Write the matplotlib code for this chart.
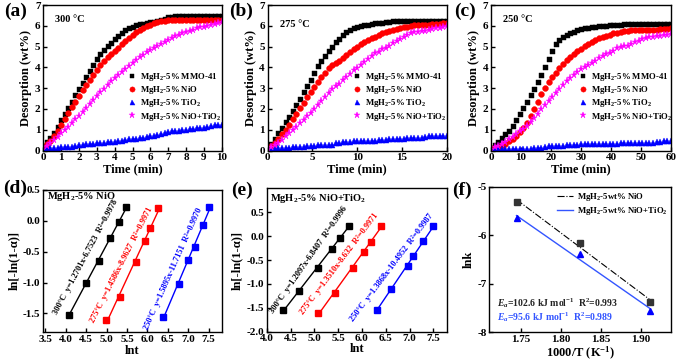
import numpy as np
import matplotlib
matplotlib.use('Agg')
import matplotlib.pyplot as plt
from matplotlib.ticker import FormatStrFormatter, MultipleLocator

plt.rcParams['font.family'] = ['Liberation Serif', 'DejaVu Serif']
plt.rcParams['font.weight'] = 'bold'
plt.rcParams['axes.labelweight'] = 'bold'
plt.rcParams['mathtext.fontset'] = 'custom'
plt.rcParams['mathtext.rm'] = 'Liberation Serif:bold'
plt.rcParams['mathtext.it'] = 'Liberation Serif:bold:italic'
plt.rcParams['mathtext.bf'] = 'Liberation Serif:bold'
plt.rcParams['axes.unicode_minus'] = False

# ---------------- data: isothermal desorption ----------------
series_labels = ['MgH$_2$-5% MMO-41', 'MgH$_2$-5% NiO', 'MgH$_2$-5% TiO$_2$', 'MgH$_2$-5% NiO+TiO$_2$']

t_a = np.linspace(0, 10, 51)
a_mmo = [0.22, 0.42, 0.62, 0.85, 1.15, 1.45, 1.75, 2.05, 2.35, 2.65, 2.95, 3.25, 3.55, 3.82, 4.1, 4.38, 4.62, 4.85, 5.02, 5.18,
         5.35, 5.52, 5.65, 5.78, 5.88, 5.96, 6.02, 6.07, 6.1, 6.14, 6.17, 6.2, 6.22, 6.27, 6.35, 6.42, 6.44, 6.45, 6.45, 6.45,
         6.45, 6.45, 6.45, 6.45, 6.45, 6.45, 6.45, 6.45, 6.45, 6.45, 6.45]
a_nio = [0.18, 0.32, 0.48, 0.7, 0.95, 1.22, 1.5, 1.8, 2.08, 2.35, 2.62, 2.9, 3.15, 3.4, 3.65, 3.88, 4.1, 4.3, 4.5, 4.65,
         4.8, 4.95, 5.1, 5.25, 5.4, 5.55, 5.68, 5.8, 5.9, 5.98, 6.05, 6.12, 6.17, 6.21, 6.25, 6.27, 6.28, 6.3, 6.3, 6.3,
         6.3, 6.3, 6.3, 6.3, 6.3, 6.3, 6.3, 6.3, 6.3, 6.3, 6.3]
a_tio = [0.08, 0.1, 0.12, 0.13, 0.14, 0.15, 0.15, 0.15, 0.18, 0.22, 0.26, 0.28, 0.3, 0.3, 0.32, 0.34, 0.36, 0.38, 0.4, 0.41,
         0.42, 0.45, 0.48, 0.52, 0.55, 0.56, 0.57, 0.58, 0.6, 0.65, 0.7, 0.72, 0.74, 0.8, 0.86, 0.88, 0.92, 0.95, 0.96, 0.98,
         1.0, 1.02, 1.04, 1.06, 1.08, 1.1, 1.14, 1.18, 1.22, 1.24, 1.25]
a_mix = [0.15, 0.22, 0.35, 0.5, 0.65, 0.82, 0.98, 1.15, 1.32, 1.5, 1.68, 1.85, 2.05, 2.25, 2.45, 2.62, 2.8, 2.98, 3.15, 3.32,
         3.48, 3.62, 3.78, 3.92, 4.08, 4.22, 4.35, 4.48, 4.6, 4.72, 4.83, 4.93, 5.03, 5.13, 5.22, 5.3, 5.4, 5.5, 5.57, 5.63,
         5.7, 5.76, 5.82, 5.87, 5.92, 5.96, 6.0, 6.05, 6.1, 6.14, 6.18]

t_b = np.linspace(0, 20, 51)
b_mmo = [0.15, 0.3, 0.55, 0.85, 1.1, 1.35, 1.6, 1.88, 2.2, 2.5, 2.8, 3.1, 3.4, 3.75, 4.05, 4.3, 4.55, 4.8, 5.0, 5.2,
         5.38, 5.55, 5.7, 5.8, 5.88, 5.94, 5.98, 6.02, 6.06, 6.1, 6.12, 6.14, 6.15, 6.16, 6.2, 6.22, 6.24, 6.25, 6.25, 6.25,
         6.25, 6.25, 6.25, 6.25, 6.25, 6.25, 6.25, 6.25, 6.25, 6.25, 6.25]
b_nio = [0.1, 0.22, 0.35, 0.55, 0.78, 1.0, 1.25, 1.5, 1.78, 2.05, 2.3, 2.55, 2.8, 3.05, 3.3, 3.55, 3.75, 3.95, 4.1, 4.2,
         4.3, 4.45, 4.6, 4.75, 4.88, 5.0, 5.1, 5.2, 5.3, 5.4, 5.48, 5.56, 5.64, 5.7, 5.76, 5.8, 5.84, 5.88, 5.92, 5.96,
         6.0, 6.02, 6.03, 6.04, 6.05, 6.06, 6.08, 6.1, 6.1, 6.12, 6.12]
b_tio = [0.05, 0.06, 0.08, 0.1, 0.1, 0.12, 0.14, 0.15, 0.15, 0.16, 0.18, 0.2, 0.22, 0.24, 0.25, 0.25, 0.26, 0.26, 0.27, 0.35,
         0.38, 0.4, 0.4, 0.42, 0.44, 0.45, 0.45, 0.46, 0.47, 0.48, 0.48, 0.5, 0.5, 0.52, 0.53, 0.55, 0.55, 0.56, 0.57, 0.58,
         0.6, 0.6, 0.62, 0.62, 0.65, 0.7, 0.7, 0.71, 0.7, 0.7, 0.7]
b_mix = [0.08, 0.15, 0.25, 0.38, 0.52, 0.68, 0.82, 0.98, 1.15, 1.3, 1.48, 1.65, 1.8, 1.98, 2.18, 2.38, 2.55, 2.75, 2.95, 3.1,
         3.22, 3.38, 3.55, 3.7, 3.85, 3.98, 4.12, 4.28, 4.42, 4.55, 4.67, 4.76, 4.86, 4.95, 5.05, 5.15, 5.27, 5.38, 5.48, 5.57,
         5.64, 5.68, 5.71, 5.74, 5.77, 5.8, 5.83, 5.87, 5.9, 5.95, 6.0]

t_c = np.linspace(0, 60, 51)
c_mmo = [0.1, 0.25, 0.42, 0.6, 0.78, 0.95, 1.18, 1.45, 1.75, 2.05, 2.35, 2.65, 2.95, 3.3, 3.65, 4.0, 4.4, 4.8, 5.1, 5.3,
         5.45, 5.55, 5.65, 5.72, 5.78, 5.83, 5.87, 5.9, 5.93, 5.96, 5.98, 6.0, 6.0, 6.02, 6.03, 6.04, 6.06, 6.1, 6.1, 6.1,
         6.1, 6.1, 6.1, 6.1, 6.1, 6.1, 6.1, 6.1, 6.1, 6.1, 6.1]
c_nio = [0.1, 0.12, 0.18, 0.25, 0.33, 0.45, 0.57, 0.7, 0.88, 1.08, 1.32, 1.65, 2.0, 2.35, 2.7, 3.0, 3.28, 3.52, 3.75, 3.95,
         4.15, 4.35, 4.5, 4.65, 4.78, 4.9, 5.02, 5.12, 5.2, 5.3, 5.4, 5.47, 5.53, 5.58, 5.63, 5.67, 5.7, 5.73, 5.76, 5.78,
         5.8, 5.8, 5.8, 5.8, 5.8, 5.81, 5.82, 5.83, 5.84, 5.86, 5.88]
c_tio = [0.05, 0.06, 0.06, 0.07, 0.07, 0.08, 0.08, 0.08, 0.08, 0.09, 0.09, 0.09, 0.12, 0.1, 0.11, 0.18, 0.2, 0.2, 0.2, 0.21,
         0.22, 0.25, 0.26, 0.27, 0.28, 0.29, 0.3, 0.3, 0.3, 0.3, 0.31, 0.31, 0.31, 0.32, 0.32, 0.33, 0.35, 0.36, 0.36, 0.36,
         0.37, 0.37, 0.37, 0.38, 0.38, 0.38, 0.4, 0.42, 0.44, 0.45, 0.45]
c_mix = [0.08, 0.15, 0.22, 0.32, 0.42, 0.53, 0.65, 0.78, 0.92, 1.05, 1.2, 1.38, 1.58, 1.78, 1.98, 2.18, 2.38, 2.58, 2.78, 2.98,
         3.15, 3.32, 3.48, 3.62, 3.78, 3.92, 4.02, 4.12, 4.22, 4.32, 4.45, 4.55, 4.62, 4.7, 4.8, 4.92, 5.0, 5.02, 5.05, 5.12,
         5.2, 5.28, 5.35, 5.4, 5.45, 5.48, 5.5, 5.52, 5.55, 5.58, 5.6]

temps_top = ['300 °C', '275 °C', '250 °C']

# ---------------- data: JMAK fits ----------------
d_lnt = {'300': [4.07, 4.50, 4.82, 5.09, 5.30, 5.47],
         '275': [4.99, 5.32, 5.71, 5.94, 6.07, 6.27],
         '250': [6.38, 6.77, 6.99, 7.16, 7.36, 7.52]}
d_y = {'300': [-1.52, -1.00, -0.65, -0.28, -0.02, 0.22],
       '275': [-1.61, -1.23, -0.66, -0.33, -0.12, 0.21],
       '250': [-1.56, -1.03, -0.64, -0.42, -0.07, 0.22]}
d_eq = {'300': '300°C  y=1.2701x-6.7523  R²=0.9978',
        '275': '275°C  y=1.4586x-8.9627  R²=0.9971',
        '250': '250°C  y=1.5895x-11.7151  R²=0.9970'}

e_lnt = {'300': [4.35, 4.68, 5.07, 5.37, 5.54, 5.72],
         '275': [5.08, 5.43, 5.82, 6.04, 6.18, 6.39],
         '250': [6.31, 6.62, 6.96, 7.08, 7.28, 7.50]}
e_y = {'300': [-1.54, -1.15, -0.67, -0.28, -0.03, 0.22],
       '275': [-1.60, -1.19, -0.66, -0.34, -0.13, 0.22],
       '250': [-1.54, -1.10, -0.63, -0.42, -0.11, 0.21]}
e_eq = {'300': '300°C  y=1.2097x-6.8407  R²=0.9996',
        '275': '275°C  y=1.3510x-8.632  R²=0.9971',
        '250': '250°C  y=1.3868x-10.4952  R²=0.9987'}

# ---------------- data: Arrhenius ----------------
inv_T = [1.745, 1.824, 1.912]
lnk_nio = [-5.31, -6.15, -7.38]
lnk_mix = [-5.65, -6.39, -7.57]

# ---------------- figure ----------------
W, H = 678, 361
fig = plt.figure(figsize=(W / 100, H / 100), dpi=100)

def add_ax(left, top, right, bottom):
    return fig.add_axes([left / W, 1 - bottom / H, (right - left) / W, (bottom - top) / H])

def style(ax):
    for s in ax.spines.values():
        s.set_linewidth(1.0)
    ax.tick_params(direction='in', length=3, width=1.0, labelsize=8, pad=2)
    for lab in ax.get_xticklabels() + ax.get_yticklabels():
        lab.set_fontweight('bold')

colors = ['#000000', '#FF0000', '#0000FF', '#FF00FF']
markers = ['s', 'o', '^', '*']
msizes = [3.6, 4.2, 4.0, 5.2]

top_axes = [add_ax(43.3, 5, 221.7, 150.5), add_ax(267.7, 5, 446.7, 150.5), add_ax(491, 5, 671, 150.5)]
top_data = [(t_a, [a_mmo, a_nio, a_tio, a_mix], 10, 1),
            (t_b, [b_mmo, b_nio, b_tio, b_mix], 20, 5),
            (t_c, [c_mmo, c_nio, c_tio, c_mix], 60, 10)]
leg_x = [0.475, 0.477, 0.485]
temp_y = [0.90, 0.865, 0.90]
for i, (ax, (t, ys, tmax, step)) in enumerate(zip(top_axes, top_data)):
    for y, c, m, ms, lab in zip(ys, colors, markers, msizes, series_labels):
        ax.plot(t, y, linestyle='none', marker=m, color=c, markersize=ms, markeredgewidth=0.3,
                markeredgecolor=c, label=lab)
    ax.set_xlim(0, tmax)
    ax.set_ylim(0, 7)
    ax.xaxis.set_major_locator(MultipleLocator(step))
    ax.yaxis.set_major_locator(MultipleLocator(1))
    ax.set_xlabel('Time (min)', fontsize=9, labelpad=1)
    ax.set_ylabel('Desorption (wt%)', fontsize=9, labelpad=2)
    style(ax)
    ax.text(0.066, temp_y[i], temps_top[i], transform=ax.transAxes, fontsize=7.5, fontweight='bold',
            va='center', ha='left')
    ax.legend(loc='center left', bbox_to_anchor=(leg_x[i], 0.368), frameon=False, fontsize=6.3,
              handlelength=1.0, handletextpad=0.4, labelspacing=0.12, borderpad=0, borderaxespad=0,
              numpoints=1, markerscale=0.9)

# (d)
axd = add_ax(43, 190, 222, 332)
line_cols = ['#000000', '#FF0000', '#0000FF']
keys = ['300', '275', '250']
d_txt_pos = [(3.80, -1.53, 62), (4.69, -1.66, 63), (6.02, -1.77, 66)]
for k, c, (tx, ty, rot) in zip(keys, line_cols, d_txt_pos):
    x = np.array(d_lnt[k]); y = np.array(d_y[k])
    p = np.polyfit(x, y, 1)
    axd.plot([x[0], x[-1]], np.polyval(p, [x[0], x[-1]]), color=c, lw=1.0)
    axd.plot(x, y, 's', color=c, markersize=4)
    axd.text(tx, ty, d_eq[k], color=c, fontsize=6, fontweight='bold', rotation=rot,
             rotation_mode='anchor', ha='left', va='baseline')
axd.set_xlim(3.44, 7.83)
axd.set_ylim(-1.8, 0.5)
axd.xaxis.set_major_locator(MultipleLocator(0.5))
axd.yaxis.set_major_locator(MultipleLocator(0.5))
axd.xaxis.set_major_formatter(FormatStrFormatter('%.1f'))
axd.yaxis.set_major_formatter(FormatStrFormatter('%.1f'))
axd.set_xlabel('lnt', fontsize=9, labelpad=1)
axd.set_ylabel('ln[-ln(1-α)]', fontsize=9, labelpad=2)
style(axd)
axd.text(0.02, 0.955, 'MgH$_2$-5% NiO', transform=axd.transAxes, fontsize=7.5, va='center', ha='left')

# (e)
axe = add_ax(266.7, 188.3, 446.7, 331.7)
e_txt_pos = [(4.15, -1.62, 55), (4.78, -1.64, 53), (5.82, -1.79, 53)]
for k, c, (tx, ty, rot) in zip(keys, line_cols, e_txt_pos):
    x = np.array(e_lnt[k]); y = np.array(e_y[k])
    p = np.polyfit(x, y, 1)
    axe.plot([x[0], x[-1]], np.polyval(p, [x[0], x[-1]]), color=c, lw=1.0)
    axe.plot(x, y, 's', color=c, markersize=4)
    axe.text(tx, ty, e_eq[k], color=c, fontsize=6, fontweight='bold', rotation=rot,
             rotation_mode='anchor', ha='left', va='baseline')
axe.set_xlim(4.0, 7.78)
axe.set_ylim(-2.0, 1.0)
axe.set_xticks([4.0, 4.5, 5.0, 5.5, 6.0, 6.5, 7.0, 7.5])
axe.set_yticks([-2.0, -1.5, -1.0, -0.5, 0.0, 0.5])
axe.xaxis.set_major_formatter(FormatStrFormatter('%.1f'))
axe.yaxis.set_major_formatter(FormatStrFormatter('%.1f'))
axe.set_xlabel('lnt', fontsize=9, labelpad=0)
axe.set_ylabel('ln[-ln(1-α)]', fontsize=9, labelpad=2)
style(axe)
axe.text(0.02, 0.93, 'MgH$_2$-5% NiO+TiO$_2$', transform=axe.transAxes, fontsize=7.5, va='center', ha='left')

# (f)
axf = add_ax(489.3, 187, 671, 332)
x = np.array(inv_T)
p1 = np.polyfit(x, lnk_nio, 1)
p2 = np.polyfit(x, lnk_mix, 1)
axf.plot([x[0], x[-1]], np.polyval(p1, [x[0], x[-1]]), color='#000000', lw=0.8, ls='-.',
         label='MgH$_2$-5wt% NiO')
axf.plot([x[0], x[-1]], np.polyval(p2, [x[0], x[-1]]), color='#3355FF', lw=1.0, ls='-',
         label='MgH$_2$-5wt% NiO+TiO$_2$')
axf.plot(x, lnk_nio, 's', color='#333333', markersize=4)
axf.plot(x, lnk_mix, '^', color='#0000FF', markersize=5)
axf.set_xlim(1.711, 1.938)
axf.set_ylim(-8, -5)
axf.set_xticks([1.75, 1.80, 1.85, 1.90])
axf.set_yticks([-8, -7, -6, -5])
axf.xaxis.set_major_formatter(FormatStrFormatter('%.2f'))
axf.yaxis.set_major_formatter(FormatStrFormatter('%d'))
axf.set_xlabel('1000/T (K$^{-1}$)', fontsize=9, labelpad=1)
axf.set_ylabel('lnk', fontsize=9, labelpad=2)
style(axf)
axf.legend(loc='center left', bbox_to_anchor=(0.37, 0.883), frameon=False, fontsize=6.3,
           handlelength=1.9, handletextpad=0.4, labelspacing=0.3, borderpad=0, borderaxespad=0)
axf.text(0.04, 0.202, '$\\mathit{E}_a$=102.6 kJ mol$^{-1}$  R$^2$=0.993', transform=axf.transAxes,
         fontsize=7, color='#222222', va='center', ha='left')
axf.text(0.04, 0.106, '$\\mathit{E}_a$=95.6 kJ mol$^{-1}$  R$^2$=0.989', transform=axf.transAxes,
         fontsize=7, color='#3355FF', va='center', ha='left')

# panel labels
for lab, px, py in [('(a)', 4, 11.5), ('(b)', 229, 11.5), ('(c)', 454, 11.5),
                    ('(d)', 3, 188), ('(e)', 231, 190), ('(f)', 452, 190.5)]:
    fig.text(px / W, 1 - py / H, lab, fontsize=14, fontweight='bold', ha='left', va='center')

fig.savefig('out.png', dpi=100)
